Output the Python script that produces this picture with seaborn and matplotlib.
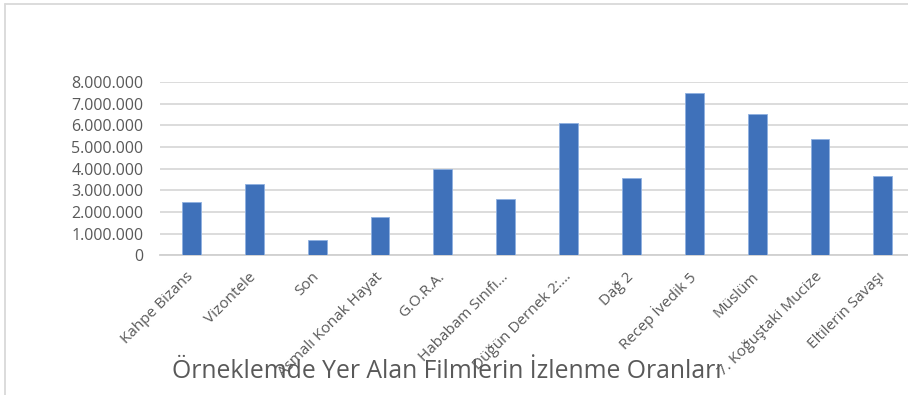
import matplotlib
matplotlib.use("Agg")
import matplotlib.pyplot as plt
from matplotlib.ticker import FuncFormatter, FixedLocator
from matplotlib.lines import Line2D
import seaborn as sns
import pandas as pd

films = ["Kahpe Bizans", "Vizontele", "Son", "Asmalı Konak Hayat", "G.O.R.A.",
         "Hababam Sınıfı…", "Düğün Dernek 2:…", "Dağ 2", "Recep İvedik 5",
         "Müslüm", "7. Koğuştaki Mucize", "Eltilerin Savaşı"]
viewers = [2450000, 3290000, 710000, 1770000, 4000000, 2590000,
           6090000, 3570000, 7480000, 6510000, 5380000, 3650000]
y_ticks = [0, 1000000, 2000000, 3000000, 4000000, 5000000, 6000000, 7000000, 8000000]
title = "Örneklemde Yer Alan Filmlerin İzlenme Oranları"

sns.set_theme(style="white")
plt.rcParams['font.family'] = ['Open Sans', 'DejaVu Sans']

W, H = 908, 395
fig = plt.figure(figsize=(W / 100, H / 100), dpi=100)
ax = fig.add_axes([160 / W, 1 - 255.3 / H, 1 - 160 / W, (255.3 - 82) / H])
ax.patch.set_alpha(0)

df = pd.DataFrame({"film": films, "viewers": viewers})
sns.barplot(data=df, x="film", y="viewers", color="#3F71BA", saturation=1,
            width=0.3, ax=ax, edgecolor="#8fb0e0", linewidth=0.6, zorder=3)

grey = "#595959"
ax.set_ylim(0, 8000000)
ax.set_xlim(-0.5, 11.40)
ax.yaxis.set_major_locator(FixedLocator(y_ticks))
ax.yaxis.set_major_formatter(FuncFormatter(lambda v, p: f"{int(v):,}".replace(",", ".")))
ax.grid(axis="y", color="#d9d9d9", linewidth=1.3, zorder=0)
ax.set_axisbelow(True)
for s in ["top", "right", "left"]:
    ax.spines[s].set_visible(False)
ax.spines["bottom"].set_color("#d0d0d0")
ax.spines["bottom"].set_linewidth(1.3)
ax.set_xlabel("")
ax.set_ylabel("")
ax.tick_params(axis="y", length=0, pad=12, labelsize=11.5, labelcolor=grey)
ax.tick_params(axis="x", length=0, pad=14, labelsize=11, labelcolor=grey)
ax.set_xticks(range(len(films)))
ax.set_xticklabels(films, rotation=45, ha="right", va="center", rotation_mode="anchor")

fig.text(447 / W, 1 - 378 / H, title, ha="center", va="baseline",
         fontsize=17.8, color=grey, zorder=-1)

fig.add_artist(Line2D([5 / W, 5 / W], [0, 1 - 4 / H], color="#d9d9d9", linewidth=1.3))
fig.add_artist(Line2D([5 / W, 1], [1 - 4 / H, 1 - 4 / H], color="#d9d9d9", linewidth=1.3))

fig.savefig("out.png", dpi=100)
